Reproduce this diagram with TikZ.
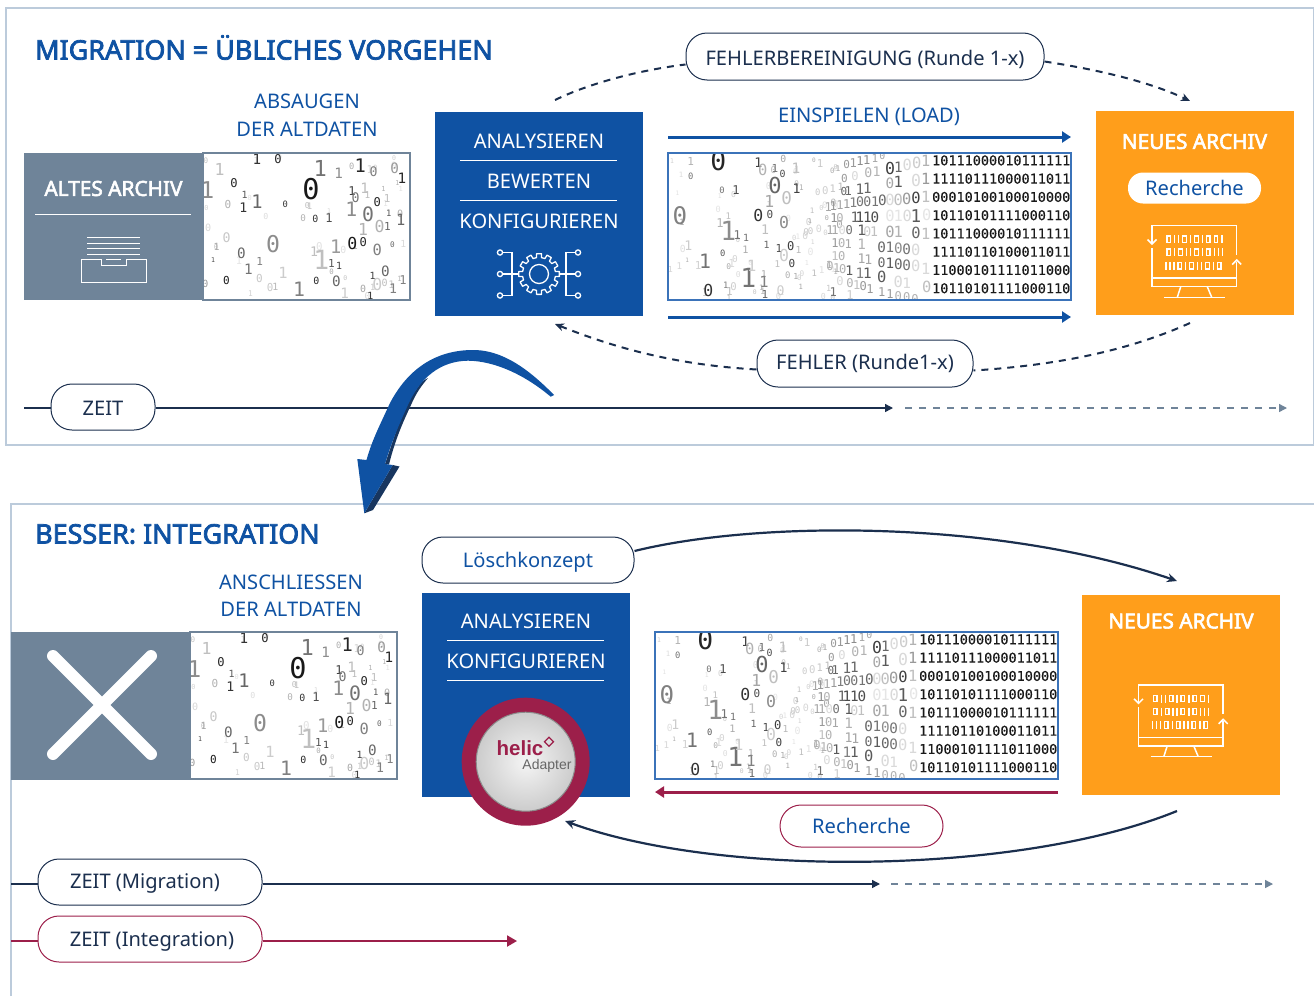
\documentclass[tikz,border=0pt]{standalone}
\usepackage{fontspec}
\setmainfont{Noto Sans}
\newfontfamily\boldf[FakeBold=2.8]{Noto Sans}
\newfontfamily\monof{DejaVu Sans Mono}
\newfontfamily\monob[FakeBold=0.25]{DejaVu Sans Mono}
\newfontfamily\arialf{Liberation Sans}
\usetikzlibrary{arrows.meta,calc}
\definecolor{hblue}{HTML}{0F52A3}
\definecolor{navy}{HTML}{1B2F4E}
\definecolor{slate}{HTML}{6F8499}
\definecolor{orange}{HTML}{FF9E1B}
\definecolor{crimson}{HTML}{9C1F4A}
\definecolor{framec}{HTML}{BCCBDB}
\definecolor{dashc}{HTML}{6F8499}
\definecolor{imgb}{HTML}{3B73B9}
\tikzset{
 bodytxt/.style={font=\fontsize{20.1}{24}\selectfont,inner sep=0pt},
 whitetxt/.style={bodytxt,text=white},
 boldtxt/.style={font=\fontsize{20.8}{24}\boldf,inner sep=0pt,text=white},
 bluetxt/.style={bodytxt,text=hblue},
 title/.style={font=\fontsize{26.9}{32}\boldf,inner sep=0pt,text=hblue,anchor=west},
 pill/.style={draw=navy,line width=1pt,fill=white,rounded corners=21pt,bodytxt,text=navy},
 icon/.style={draw=white,line width=1.5pt},
 flow/.style={draw=hblue,line width=3pt,-{Triangle[length=9pt,width=11pt]}},
 redflow/.style={draw=crimson,line width=3pt,-{Triangle[length=9pt,width=11pt]}},
 dashflow/.style={draw=navy,line width=2pt,dash pattern=on 7pt off 6pt},
 tl/.style={draw=navy,line width=1.4pt,-{Triangle[length=8pt,width=8pt]}},
 tldash/.style={draw=dashc,line width=1.4pt,dash pattern=on 7pt off 7pt,-{Triangle[length=8pt,width=8pt]}},
 curve/.style={draw=navy,line width=2.2pt,-{Stealth[length=10pt,width=9pt]}},
 seprule/.style={draw=white,line width=.7pt},
}
\newcommand\dgt[5]{\pgfmathsetmacro\fs{#4*1.1}\node[inner sep=0pt,text=black!#5,font=\fontsize{\fs}{\fs}\monof] at ({(#2)/3},{(#3)/3}) {#1};}
\newcommand\faint[5]{% number, x-range, y-range (px)
 \foreach \i in {1,...,#1}{%
  \pgfmathsetmacro\rx{#2+rnd*(#3-#2)}\pgfmathsetmacro\ry{#4+rnd*(#5-#4)}%
  \pgfmathsetmacro\rs{6+rnd*5}\pgfmathsetmacro\rg{10+rnd*25}%
  \pgfmathtruncatemacro\rd{rnd*2}%
  \node[inner sep=0pt,text=black!\rg,font=\fontsize{\rs}{\rs}\monof] at (\rx,\ry) {\rd};}}
% scattered digits, image 207 x 147
\newcommand\scatterimg[2]{%
\begin{scope}[shift={(#1,#2)}]
 \fill[white] (0,0) rectangle (207,147);
 \begin{scope}
 \clip (0,0) rectangle (207,147);
 \pgfmathsetseed{4711}
 \faint{40}{2}{205}{2}{145}
 \begin{scope}[shift={(-203.33,-63.33)}]
 \foreach \c/\x/\y/\s/\g in {1/772/210/13/80,0/835/207/11/85,1/962/235/20/55,1/1017/250/13/45,1/1082/228/17/85,0/1122/245/12/50,0/1185/235/13/40,1/1207/267/13/85,1/660/238/15/25,1/623/302/21/45,0/703/280/11/85,0/934/297/26/90,1/735/316/9/65,1/772/335/17/60,1/731/353/12/80,0/685/345/10/30,0/857/345/8/80,1/1057/305/11/75,0/1068/325/12/55,1/1095/295/13/25,1/1055/358/18/45,0/1105/375/18/55,0/1133/338/11/85,1/988/384/11/70,0/947/389/9/80,1/1167/372/8/65,1/1203/390/14/60,1/1090/420/15/30,0/1140/410/15/30,1/1163/410/10/60,0/681/443/12/22,0/820/462/21/45,0/725/490/13/60,1/651/472/9/35,0/1058/462/15/90,0/1091/458/11/85,1/1008/472/17/40,1/965/510/24/25,1/943/485/12/25,0/1133/482/14/50,1/995/520/10/65,1/1018/530/9/75,1/746/540/13/55,1/780/515/10/50,1/850/550/14/20,0/680/572/10/90,0/950/575/9/85,0/1010/576/13/60,0/1157/545/13/60,1/1119/560/9/75,0/1133/583/15/20,1/1180/597/12/50,1/898/600/18/50,1/1035/612/13/20,0/1090/598/9/35,1/1112/620/9/80,1/1210/570/11/50,0/617/583/9/40,0/1178/465/7/60,1/640/510/6/70}
 {\dgt{\c}{\x}{\y}{\s}{\g}}
 \end{scope}
 \end{scope}
 \draw[draw=slate,line width=1.2pt] (0,0) rectangle (207,147);
\end{scope}}
% binary image 403 x 147
\newcommand\binimg[2]{%
\begin{scope}[shift={(#1,#2)}]
 \fill[white] (0,0) rectangle (403,147);
 \begin{scope}
 \clip (0,0) rectangle (403,147);
 \pgfmathsetseed{815}
 \faint{35}{2}{125}{2}{145}
 \faint{50}{125}{175}{5}{145}
 \begin{scope}[shift={(-8,-23.33)}]
 \foreach \c/\x/\y/\s/\g in {0/175/95/24/85,1/295/100/12/75,0/308/122/14/30,1/345/115/10/55,0/368/133/9/70,1/408/115/13/25,0/345/168/20/60,1/410/178/12/75,0/380/205/16/25,1/228/180/11/70,0/186/183/8/55,1/328/215/15/35,0/295/258/15/80,0/330/253/10/70,0/372/277/15/45,0/60/257/22/50,1/205/305/24/45,1/232/317/11/55,1/258/325/9/55,1/180/280/11/30,1/315/300/12/25,1/320/345/9/60,1/357/355/10/70,0/392/350/11/75,0/188/370/8/65,0/372/378/15/20,0/396/402/10/75,1/135/395/18/55,1/265/445/24/55,1/312/457/14/50,0/145/482/15/80,1/197/468/8/50,1/208/485/10/25,1/315/495/10/60,0/362/482/12/20,1/85/348/12/20,1/275/408/14/20,1/215/402/10/15,1/92/95/10/30,0/92/140/8/55,
 0/690/117/15/75,1/715/112/13/60,0/742/106/14/15,0/770/100/14/20,1/797/93/14/30,1/600/95/11/45,1/620/92/11/45,1/645/85/10/35,0/667/78/9/35,0/560/105/10/40,1/580/100/11/40,0/625/130/12/30,1/650/125/12/30,0/585/140/11/15,0/553/147/10/40,
 0/690/160/13/35,1/715/158/14/65,0/768/152/15/15,1/797/148/14/40,1/600/180/13/60,1/622/176/13/60,1/565/184/11/60,0/552/186/10/60,
 0/768/205/14/75,0/740/208/14/40,0/715/210/14/25,0/690/212/14/15,1/797/203/14/25,0/667/212/13/60,1/645/215/12/55,0/622/215/12/55,0/600/216/12/55,1/580/218/12/50,1/560/222/11/40,1/540/225/11/35,1/520/228/11/40,1/505/232/11/35,
 1/768/258/16/65,0/742/258/14/15,1/715/260/14/10,0/690/260/14/10,0/800/256/14/10,0/645/262/13/70,1/622/262/13/70,1/600/262/13/70,1/585/262/13/60,0/540/265/11/30,1/522/265/11/45,
 0/768/310/14/60,1/797/312/14/25,1/715/307/14/30,0/690/307/14/35,1/642/305/12/25,0/622/305/12/20,1/605/303/13/65,0/568/302/11/55,0/547/302/11/15,1/525/302/11/35,1/510/302/11/35,
 0/767/360/14/15,0/740/358/13/55,0/715/355/13/45,1/690/353/13/55,0/665/352/13/60,1/605/345/13/30,1/565/342/11/35,0/545/340/11/30,1/525/340/11/40,
 1/797/417/14/15,0/767/410/14/15,0/740/407/13/55,0/715/405/13/60,1/690/402/13/65,0/665/398/12/60,1/625/390/12/35,1/605/388/12/35,0/545/380/11/30,1/525/378/11/25,
 0/800/472/14/25,1/740/460/13/15,0/715/456/14/15,0/665/442/14/65,1/622/432/13/65,1/600/430/13/50,1/568/422/12/65,0/548/418/11/30,1/530/415/11/30,0/510/410/11/30,
 1/520/488/11/55,0/540/455/11/15,0/570/460/11/30,1/590/465/11/25,0/610/470/11/40,1/630/478/11/40,1/665/488/11/40,1/690/492/11/40,0/715/498/11/30,0/740/503/11/30,0/765/507/11/30,1/570/497/11/20}
 {\dgt{\c}{\x}{\y}{\s}{\g}}
 \end{scope}
 \foreach \t [count=\k] in {10111000010111111,11110111000011011,00010100100010000,10110101111000110,10111000010111111,11110110100011011,11000101111011000,10110101111000110}
 {\node[inner sep=0pt,anchor=east,text=black!90,font=\fontsize{13.5}{14}\monob] at (402.5,{7.4+(\k-1)*18.27}) {\t};}
 \end{scope}
 \draw[draw=imgb,line width=1.2pt] (0,0) rectangle (403,147);
\end{scope}}
\newcommand\bitrow[3]{%
 \xdef\bx{#1}%
 \foreach \c in {#3}{%
  \ifnum\c=0
   \draw[icon,line width=1.3pt] (\bx,#2-3.2) rectangle +(3.6,6.4);
   \pgfmathsetmacro\nx{\bx+7.8}%
  \else
   \draw[icon,line width=1.3pt] (\bx,#2-3.9) -- +(0,7.8);
   \pgfmathsetmacro\nx{\bx+4}%
  \fi
  \xdef\bx{\nx}}}
\newcommand\monitor[2]{%
\begin{scope}[shift={(#1,#2)}]
 \draw[icon,line join=miter] (1152,243) -- (1152,225.7) -- (1236.7,225.7) -- (1236.7,255);
 \draw[icon] (1152,248) -- (1152,286.7) -- (1236.7,286.7) -- (1236.7,262);
 \draw[icon] (1152,278) -- (1236.7,278);
 \draw[icon] (1147.5,239.5) -- (1152,244) -- (1156.5,239.5);
 \draw[icon] (1232.2,264.5) -- (1236.7,260) -- (1241.2,264.5);
 \draw[icon] (1180.7,286.7) -- (1177.3,297.3) (1207.3,286.7) -- (1211.7,297.3);
 \draw[icon] (1164,297.3) -- (1225,297.3);
 \bitrow{1167}{239.3}{0,1,1,0,1,0,1,0,0,1}
 \bitrow{1167}{252.3}{0,1,0,1,1,0,1,0,1,1,1}
 \bitrow{1166}{265.7}{1,1,1,0,1,0,1,1,0,1,0}
\end{scope}}
\begin{document}
\begin{tikzpicture}[x=1pt,y=-1pt]
\useasboundingbox (0,0) rectangle (1314,996);
\fill[white] (0,0) rectangle (1314,996);
% frames
\draw[framec,line width=1.2pt] (6,8) rectangle (1313.4,445);
\draw[framec,line width=1.2pt] (11,996) -- (11,504) -- (1314,504);
%%% TOP
\node[title] (t1) at (35,47.5) {MIGRATION = ÜBLICHES VORGEHEN};
\node[bluetxt] (abs1) at (307,101) {ABSAUGEN};
\node[bluetxt] (abs2) at (307,129) {DER ALTDATEN};
\fill[slate] (24,153) rectangle (203,300);
\node[boldtxt] (altes) at (113.5,188.5) {ALTES ARCHIV};
\draw[seprule] (35,214) -- (191,214);
\draw[icon,line width=1pt] (87,237)--(140,237) (87,243)--(140,243) (87,248.5)--(140,248.5) (87,254)--(140,254) (106,259)--(121,259);
\draw[icon,line width=1pt] (81,259) rectangle (146,282);
\draw[slate,line width=1.4pt] (101.5,259) -- (125.5,259);
\draw[icon,line width=1pt] (101,259) -- (101,265) -- (126,265) -- (126,259);
\draw[white,line width=1pt] (106,259)--(121,259);
\scatterimg{203}{153}
% blue box
\fill[hblue] (435,112) rectangle (643,316);
\node[whitetxt] (an1) at (539,141) {ANALYSIEREN};
\draw[seprule] (460,160) -- (617,160);
\node[whitetxt] (be1) at (539,181) {BEWERTEN};
\draw[seprule] (460,200) -- (617,200);
\node[whitetxt] (ko1) at (539,221) {KONFIGURIEREN};
\begin{scope}[shift={(539,274)}]
 \foreach \a in {0,30,...,330}{
  \draw[icon,line width=1.3pt,line join=round] (\a-15:16.5) -- (\a-9:16.5) -- (\a-7:20.5) -- (\a+7:20.5) -- (\a+9:16.5) -- (\a+15:16.5);}
 \draw[icon,line width=1.3pt] (0,0) circle (9.5);
 \draw[icon,line width=1.3pt] (-21,0) -- (-36.5,0) (21,0) -- (36.5,0);
 \draw[icon,line width=1.3pt] (-36.5,-21.5) -- (-27,-21.5) -- (-27,21.5) -- (-36.5,21.5);
 \draw[icon,line width=1.3pt] (36.5,-21.5) -- (27,-21.5) -- (27,21.5) -- (36.5,21.5);
 \foreach \y in {-21.5,0,21.5}{
  \draw[icon,line width=1.3pt,fill=hblue] (-39,\y) circle (2.6);
  \draw[icon,line width=1.3pt,fill=hblue] (39,\y) circle (2.6);}
\end{scope}
% flow arrows and image
\coordinate (fa1) at (668,137); \coordinate (fb1) at (1071,137);
\coordinate (fa2) at (668,317); \coordinate (fb2) at (1071,317);
\draw[flow] (fa1) -- (fb1);
\draw[flow] (fa2) -- (fb2);
\node[bluetxt] (einsp) at (869,116.5) {EINSPIELEN (LOAD)};
\binimg{668}{153}
% orange
\fill[orange] (1096,111) rectangle (1294,315);
\node[boldtxt] (neu1) at (1194.5,141.5) {NEUES ARCHIV};
\node[bodytxt,text=hblue,fill=white,rounded corners=15pt,minimum width=133pt,minimum height=31pt] (rech1) at (1194.5,188) {Recherche};
\monitor{0}{0}
% dashed curves
\node[pill,minimum width=358pt,minimum height=47pt] (feb) at (865,56.5) {\raisebox{-2.5pt}[\height][\depth]{FEHLERBEREINIGUNG (Runde 1-x)}};
\node[pill,minimum width=216pt,minimum height=47pt] (fehl) at (865,363.5) {FEHLER (Runde1-x)};
\coordinate (d1) at (555,100); \coordinate (d2) at (1190,101);
\coordinate (d3) at (1190,323); \coordinate (d4) at (555,324);
\draw[dashflow] (d1) .. controls (590,83) and (640,70) .. ($(feb.west)+(0,8)$);
\draw[dashflow,-{Stealth[length=9pt,width=8pt]}] ($(feb.east)+(0,5)$) .. controls (1100,70) and (1150,82) .. (d2);
\draw[dashflow] (d3) .. controls (1130,350) and (1060,365) .. ($(fehl.east)+(0,7)$);
\draw[dashflow,-{Stealth[length=9pt,width=8pt]}] ($(fehl.west)+(0,6)$) .. controls (680,365) and (620,350) .. (d4);
% time
\node[pill,minimum width=104pt,minimum height=46pt] (zeit) at (103,407) {\raisebox{-1pt}[\height][\depth]{ZEIT}};
\coordinate (z0) at (24,408); \coordinate (z1) at (893,408); \coordinate (z2) at (905,408); \coordinate (z3) at (1287,408);
\draw[navy,line width=1.4pt] (z0) -- (zeit.west |- z0);
\draw[tl] (zeit.east |- z0) -- (z1);
\draw[tldash] (z2) -- (z3);
% big arrow
\fill[navy!80!hblue] (364.3,513.3) -- (373,510) -- (399.5,466.5) -- (392.7,465) -- cycle;
\fill[navy!80!hblue] (385,464) -- (389,464.5) .. controls (395,440) and (403,422) .. (411,405) .. controls (416,393) and (422,385) .. (428,378) -- (421.7,381.7) -- (405,405) -- cycle;
\fill[hblue] (554,395) .. controls (520,360) and (495,350) .. (473,350) .. controls (440,350) and (410,365) .. (390,403) .. controls (380,425) and (372,440) .. (366.5,460) -- (357.3,459) -- (364.3,513.3) -- (392.7,465) -- (385,464) .. controls (392,440) and (402,418) .. (408,405) .. controls (420,378) and (440,361) .. (468,360.7) .. controls (495,361) and (525,375) .. (550.7,396.7) -- cycle;
%%% BOTTOM
\node[title] (t2) at (35,534) {BESSER: INTEGRATION};
\node[bluetxt] (ans1) at (291,582) {ANSCHLIESSEN};
\node[bluetxt] (ans2) at (291,609) {DER ALTDATEN};
\fill[slate] (11,632) rectangle (190,780);
\draw[white,line width=12pt,line cap=round] (53,656) -- (151,754) (151,656) -- (53,754);
\scatterimg{190}{632}
\binimg{655}{632}
\fill[hblue] (422,593) rectangle (630,797);
\node[whitetxt] (an2) at (526,621) {ANALYSIEREN};
\draw[seprule] (447,640) -- (604,640);
\node[whitetxt] (ko2) at (526,661) {KONFIGURIEREN};
\draw[seprule] (447,680) -- (604,680);
% helic
\fill[crimson] (525.7,761.7) circle (64);
\shade[inner color=black!4,outer color=black!20] (525.7,761.7) circle (49.5);
\draw[black!45,line width=1pt] (525.7,761.7) circle (49.5);
\node[inner sep=0pt,text=crimson,font=\fontsize{20.5}{22}\arialf\bfseries] (helic) at (520,748.5) {helic};
\draw[crimson,line width=1.3pt] (544.5,741.7) -- (549,737.2) -- (553.5,741.7) -- (549,746.2) -- cycle;
\node[inner sep=0pt,text=black!60,font=\fontsize{14}{16}\arialf] (adapt) at (547,766) {Adapter};
% orange
\fill[orange] (1082,595) rectangle (1280,795);
\node[boldtxt] (neu2) at (1181,621) {NEUES ARCHIV};
\monitor{-13.5}{459.3}
% bottom connectors
\node[pill,text=hblue,minimum width=212pt,minimum height=46pt] (loesch) at (528,560) {\raisebox{-2pt}[\height][\depth]{Löschkonzept}};
\coordinate (c1) at (1177,581);
\draw[curve] ($(loesch.east)+(0,-9)$) .. controls (760,520) and (1000,520) .. (c1);
\coordinate (r0) at (1058,792); \coordinate (r1) at (655,792);
\draw[redflow] (r0) -- (r1);
\node[pill,draw=crimson,text=hblue,minimum width=163pt,minimum height=42pt] (rech2) at (861.5,826) {Recherche};
\coordinate (c2) at (1177,811); \coordinate (c3) at (565,821);
\draw[curve] (c2) .. controls (1020,875) and (720,878) .. (c3);
\node[pill,minimum width=224pt,minimum height=46pt] (zm) at (150,882) {};
\node[bodytxt,text=navy] (zmt) at (145,883.5) {ZEIT (Migration)};
\node[pill,draw=crimson,minimum width=224pt,minimum height=46pt] (zi) at (150,939) {};
\node[bodytxt,text=navy] (zit) at (152,941.5) {ZEIT (Integration)};
\coordinate (m0) at (11,884); \coordinate (m1) at (880,884); \coordinate (m2) at (891,884); \coordinate (m3) at (1273,884);
\draw[navy,line width=1.4pt] (m0) -- (zm.west |- m0);
\draw[tl] (zm.east |- m0) -- (m1);
\draw[tldash] (m2) -- (m3);
\coordinate (i0) at (11,941); \coordinate (i1) at (517,941);
\draw[crimson,line width=2pt] (i0) -- (zi.west |- i0);
\draw[crimson,line width=2pt,-{Triangle[length=10pt,width=11pt]}] (zi.east |- i0) -- (i1);
\end{tikzpicture}
\end{document}
